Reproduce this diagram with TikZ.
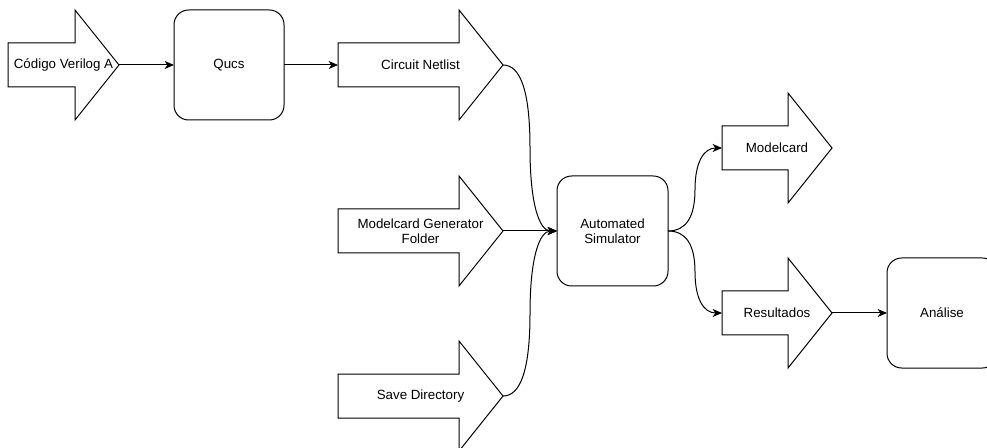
\documentclass[tikz,border=0pt]{standalone}
\usepackage{fontspec}
\setmainfont{Liberation Sans}
\usetikzlibrary{arrows.meta,calc}
\tikzset{
  arrowshape/.style={draw=black, line width=0.75pt, fill=white, line join=miter},
  lbl/.style={font=\fontsize{10}{11.5}\selectfont, align=center, inner sep=0pt},
  box/.style={draw=black, line width=0.75pt, fill=white, rounded corners=11pt,
    minimum width=82.5pt, minimum height=82.5pt, align=center,
    font=\fontsize{10}{11.5}\selectfont, inner sep=0pt, outer sep=0pt},
  conn/.style={line width=0.75pt, -{Stealth[length=7pt,width=6pt,inset=2pt]}},
}
% #1 name, #2 left x, #3 top y, #4 total width, #5 text
\newcommand\flowarrow[5]{%
  \draw[arrowshape] (#2,#3+33) -- (#2+#4-44,#3+33) -- (#2+#4-44,#3) -- (#2+#4,#3+55)
    -- (#2+#4-44,#3+110) -- (#2+#4-44,#3+77) -- (#2,#3+77) -- cycle;
  \node[lbl] (#1) at (#2+#4/2,#3+55) {#5};
  \coordinate (#1T) at (#2+#4,#3+55);
  \coordinate (#1L) at (#2,#3+55);
}
% rounded orthogonal (draw.io curved) connector: #1 from, #2 to, #3 id
\newcommand\curveconn[3]{%
  \coordinate (#3m) at ($(#1)!0.5!(#2)$);
  \coordinate (#3a) at (#1 -| #3m);
  \coordinate (#3b) at (#2 -| #3m);
  \draw[conn] (#1) .. controls ($(#1)!0.6667!(#3a)$) and ($(#3m)!0.6667!(#3a)$) .. (#3m)
    .. controls ($(#3m)!0.6667!(#3b)$) and ($(#2)!0.6667!(#3b)$) .. (#2);
}
\begin{document}
\begin{tikzpicture}[x=0.75pt,y=-0.75pt]
\useasboundingbox (0,0) rectangle (987,448);
\clip (0,0) rectangle (987,448);

% arrow-shaped items
\flowarrow{cva}{8}{10}{111}{Código Verilog A}
\flowarrow{cn}{338}{10}{165}{Circuit Netlist}
\flowarrow{mgf}{338}{176}{165}{Modelcard Generator\\Folder}
\flowarrow{sd}{338}{341}{165}{Save Directory}
\flowarrow{mc}{722}{93}{110}{Modelcard}
\flowarrow{res}{722}{258}{110}{Resultados}

% boxes
\node[box] (qucs) at (229,65) {Qucs};
\node[box, minimum width=83.25pt] (sim) at (612.5,231) {Automated\\Simulator};
\node[box] (ana) at (942,313) {Análise};

% connectors
\draw[conn] (cvaT) -- (qucs.west);
\draw[conn] (qucs.east) -- (cnL);
\curveconn{cnT}{sim.west}{ca}
\draw[conn] (mgfT) -- (sim.west);
\curveconn{sdT}{sim.west}{cb}
\curveconn{sim.east}{mcL}{cc}
\curveconn{sim.east}{resL}{cd}
\draw[conn] (resT) -- (ana.west);
\end{tikzpicture}
\end{document}
